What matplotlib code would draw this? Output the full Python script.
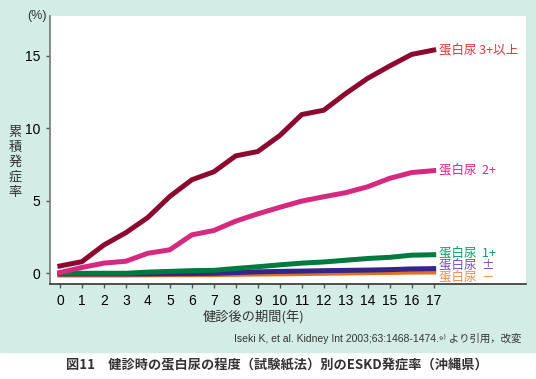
import numpy as np
import matplotlib
matplotlib.use('Agg')
import matplotlib.pyplot as plt
from matplotlib.patches import Rectangle

plt.rcParams['font.family'] = ['Liberation Sans', 'Noto Sans CJK JP', 'DejaVu Sans']

years = list(range(0, 18))
p3 = [0.5, 0.8, 1.95, 2.8, 3.85, 5.3, 6.45, 7.0, 8.1, 8.4, 9.5, 10.95, 11.25, 12.4, 13.45, 14.3, 15.1, 15.4]
p2 = [0.05, 0.4, 0.7, 0.83, 1.38, 1.62, 2.65, 2.95, 3.6, 4.1, 4.55, 4.98, 5.28, 5.56, 5.97, 6.55, 6.95, 7.08]
p1 = [0.0, 0.0, 0.0, 0.0, 0.08, 0.13, 0.18, 0.2, 0.33, 0.45, 0.58, 0.7, 0.78, 0.9, 1.02, 1.1, 1.25, 1.28]
pm = [-0.05, -0.05, -0.05, -0.05, -0.04, -0.03, -0.02, 0.0, 0.05, 0.1, 0.13, 0.15, 0.18, 0.2, 0.22, 0.25, 0.3, 0.32]
mn = [-0.12, -0.12, -0.12, -0.12, -0.11, -0.1, -0.1, -0.09, -0.07, -0.05, -0.04, -0.02, 0.0, 0.02, 0.04, 0.06, 0.08, 0.09]

labels = ['蛋白尿 3+以上', '蛋白尿  2+', '蛋白尿  1+', '蛋白尿  ±', '蛋白尿  －']
label_y = [15.4, 7.1, 1.4, 0.57, -0.25]
line_colors = ['#8c0a30', '#d42a80', '#007a40', '#35258a', '#e2701c']
text_colors = ['#e8303c', '#ec2088', '#00a066', '#7050b4', '#f58a48']

fig = plt.figure(figsize=(5.36, 3.79), dpi=100)
# mint panel behind the chart
fig.patches.append(Rectangle((0, 1 - 352 / 379), 1, 352 / 379, transform=fig.transFigure,
                             color='#d3ece5', zorder=-10))

ax = fig.add_axes([50 / 536, 1 - 284 / 379, 476 / 536, 268 / 379])
ax.set_facecolor('white')

series = [p3, p2, p1, pm, mn]
for vals, c in list(zip(series, line_colors))[::-1]:
    ax.plot(years, vals, color=c, lw=3.6, solid_joinstyle='miter')

for lab, ly, tc in zip(labels, label_y, text_colors):
    ax.text(17.25, ly, lab, color=tc, fontsize=9, va='center', ha='left',
            family=['Noto Sans CJK JP', 'DejaVu Sans'])

ax.set_xlim(-0.45, 21.2)
ax.set_ylim(-0.74, 17.75)
ax.set_xticks(years)
ax.set_yticks([0, 5, 10, 15])
ax.tick_params(axis='both', labelsize=10, length=3, width=1, color='#555555', pad=4)
for s in ['top', 'right']:
    ax.spines[s].set_visible(False)
ax.spines['left'].set_color('#777777')
ax.spines['bottom'].set_color('#333333')
ax.spines['left'].set_linewidth(1.2)
ax.spines['bottom'].set_linewidth(1.2)

fig.text(37 / 536, 1 - 16 / 379, '(%)', fontsize=9, ha='center', va='center', color='#333333')
for i, ch in enumerate('累積発症率'):
    fig.text(15 / 536, 1 - (133 + i * 14.8) / 379, ch, fontsize=9.5, ha='center', va='center',
             family=['Noto Sans CJK JP'], color='#333333')
fig.text(254 / 536, 1 - 317 / 379, '健診後の期間(年)', fontsize=9.5, ha='center', va='center',
         family=['Noto Sans CJK JP'], color='#333333')
fig.text(521 / 536, 1 - 339 / 379, 'Iseki K, et al. Kidney Int 2003;63:1468-1474.⁹⁾ より引用，改変',
         fontsize=7.5, ha='right', va='center', color='#333333',
         family=['Liberation Sans', 'Noto Sans CJK JP', 'DejaVu Sans'])
fig.text(66 / 536, 1 - 365 / 379, '図11　健診時の蛋白尿の程度（試験紙法）別のESKD発症率（沖縄県）',
         fontsize=9.5, ha='left', va='center', fontweight='bold',
         family=['Noto Sans CJK JP'], color='#333333')

fig.savefig('out.png', dpi=100)
